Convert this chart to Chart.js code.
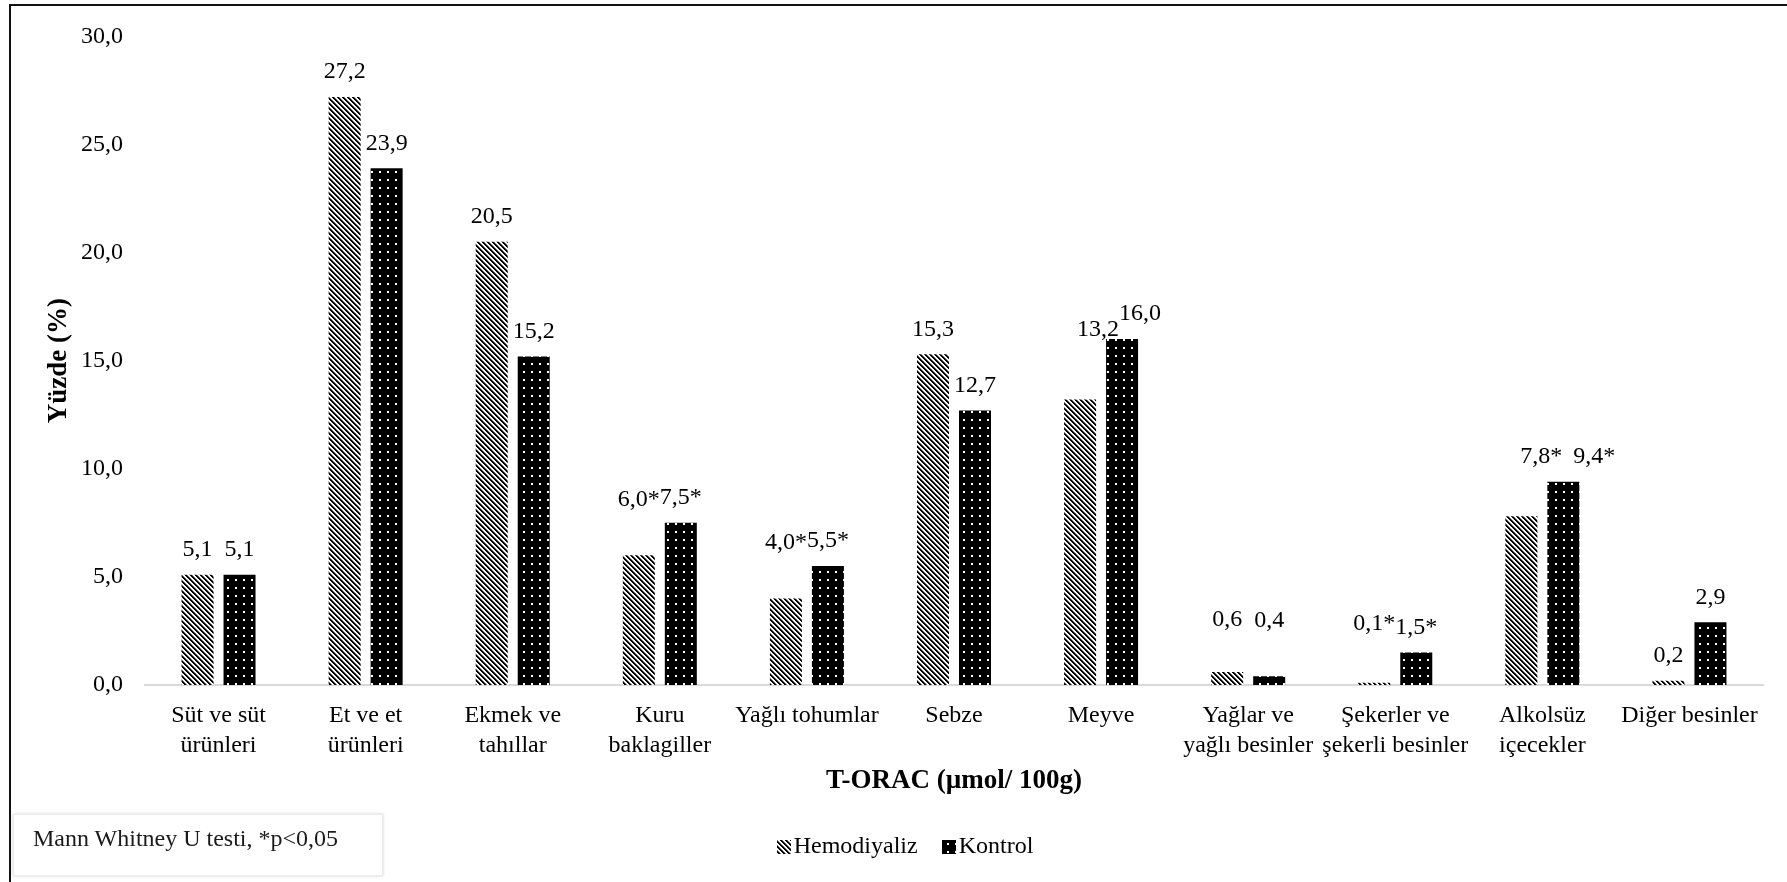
<!DOCTYPE html>
<html><head><meta charset="utf-8">
<script src="https://cdn.jsdelivr.net/npm/chart.js@4.4.0/dist/chart.umd.min.js"></script>
<style>
html,body{margin:0;padding:0;background:#fff;}
#wrap{position:relative;width:1787px;height:882px;overflow:hidden;}
canvas{position:absolute;left:0;top:0;}
#frame{position:absolute;left:9px;top:4px;width:1800px;height:900px;border-top:2px solid #111;border-left:2px solid #111;box-sizing:border-box;pointer-events:none;}
#note{position:absolute;left:13px;top:814px;width:370px;height:62px;box-sizing:border-box;border:1px solid #ececec;box-shadow:0 0 3px rgba(0,0,0,0.18);background:#fff;font-family:'Liberation Serif',serif;font-size:24px;color:#1a1a1a;padding:10px 0 0 19px;letter-spacing:0;white-space:nowrap;}
</style></head>
<body><div id="wrap"><canvas id="c" width="1787" height="882"></canvas><div id="frame"></div><div id="note">Mann Whitney U testi, *p&lt;0,05</div></div>
<script>
const categories = [["Süt ve süt","ürünleri"],["Et ve et","ürünleri"],["Ekmek ve","tahıllar"],["Kuru","baklagiller"],"Yağlı tohumlar","Sebze","Meyve",["Yağlar ve","yağlı besinler"],["Şekerler ve","şekerli besinler"],["Alkolsüz","içecekler"],"Diğer besinler"];
const hemodiyaliz = [5.1, 27.2, 20.5, 6.0, 4.0, 15.3, 13.2, 0.6, 0.1, 7.8, 0.2];
const kontrol = [5.1, 23.9, 15.2, 7.5, 5.5, 12.7, 16.0, 0.4, 1.5, 9.4, 2.9];
const hemoLabels = ["5,1","27,2","20,5","6,0*","4,0*","15,3","13,2","0,6","0,1*","7,8*","0,2"];
const kontrolLabels = ["5,1","23,9","15,2","7,5*","5,5*","12,7","16,0","0,4","1,5*","9,4*","2,9"];
const yTickLabels = ["0,0","5,0","10,0","15,0","20,0","25,0","30,0"];

function hatchPattern(){
  const n=5;const c=document.createElement('canvas');c.width=n;c.height=n;
  const x=c.getContext('2d');x.fillStyle='#fff';x.fillRect(0,0,n,n);
  for(let i=0;i<n;i++)for(let j=0;j<n;j++){
    const d=((i-j)%n+n)%n;
    if(d<2){x.fillStyle='#000';x.fillRect(i,j,1,1);}
    else if(d===2){x.fillStyle='#777';x.fillRect(i,j,1,1);}
  }
  return x.createPattern(c,'repeat');
}
function dotPattern(){
  const c=document.createElement('canvas');c.width=8;c.height=8;
  const x=c.getContext('2d');x.fillStyle='#000';x.fillRect(0,0,8,8);x.fillStyle='#fff';x.fillRect(3,3,2,2);
  return x.createPattern(c,'repeat');
}
const allLabels=[hemoLabels,kontrolLabels];
const labelStyle={
  lift:[[0,0,0,31,31,0,45,27,34,35,0],[0,0,0,0,0,0,0,31,0,0,0]],
  shift:[[0,0,0,0,0,0,18,0,0,20,0],[0,0,0,0,0,0,18,0,0,31,0]]
};
const valueLabels={id:'valueLabels',afterDatasetsDraw(chart){
  const ctx=chart.ctx;ctx.save();
  ctx.font='24px "Liberation Serif"';ctx.fillStyle='#000';ctx.textAlign='center';ctx.textBaseline='middle';
  chart.data.datasets.forEach((ds,di)=>{
    chart.getDatasetMeta(di).data.forEach((bar,i)=>{
      ctx.fillText(allLabels[di][i],bar.x+labelStyle.shift[di][i],bar.y-25-labelStyle.lift[di][i]);
    });
  });
  ctx.restore();
}};
const legendStyle={centerX:905,y:847,box:14,gap:3,itemGap:24};
const customLegend={id:'customLegend',afterDraw(chart){
  const ctx=chart.ctx;const s=legendStyle;ctx.save();
  ctx.font='24px "Liberation Serif"';ctx.textBaseline='middle';ctx.textAlign='left';
  const items=chart.data.datasets.map(ds=>({text:ds.label,fill:ds.backgroundColor,w:ctx.measureText(ds.label).width}));
  const total=items.reduce((a,it)=>a+s.box+s.gap+it.w,0)+s.itemGap*(items.length-1);
  let x=s.centerX-total/2;
  items.forEach(it=>{
    ctx.fillStyle=it.fill;ctx.fillRect(Math.round(x),Math.round(s.y-s.box/2),s.box,s.box);
    x+=s.box+s.gap;ctx.fillStyle='#000';ctx.fillText(it.text,x,s.y);x+=it.w+s.itemGap;
  });
  ctx.restore();
}};
const serif='Liberation Serif';
new Chart(document.getElementById('c'),{
  type:'bar',
  data:{labels:categories,datasets:[
    {label:'Hemodiyaliz',data:hemodiyaliz,backgroundColor:hatchPattern(),borderWidth:0,categoryPercentage:0.571,barPercentage:0.762},
    {label:'Kontrol',data:kontrol,backgroundColor:dotPattern(),borderWidth:0,categoryPercentage:0.571,barPercentage:0.762}
  ]},
  options:{
    responsive:false,animation:false,devicePixelRatio:1,
    layout:{padding:{top:34,right:24,bottom:66,left:0}},
    plugins:{legend:{display:false},tooltip:{enabled:false}},
    scales:{
      x:{
        grid:{display:false,drawTicks:false},
        border:{display:true,color:'#d9d9d9',width:2},
        ticks:{font:{family:serif,size:24,lineHeight:1.25},color:'#000',padding:16,maxRotation:0,autoSkip:false},
        title:{display:true,text:'T-ORAC (µmol/ 100g)',font:{family:serif,size:27,weight:'bold'},color:'#000',padding:{top:0,bottom:19}},
        afterFit(s){s.height=131;}
      },
      y:{
        min:0,max:30,
        grid:{display:false,drawTicks:false},
        border:{display:false},
        ticks:{stepSize:5,font:{family:serif,size:24},color:'#000',padding:22,callback:(v,i)=>yTickLabels[i]},
        title:{display:true,text:'Yüzde (%)',font:{family:serif,size:27,weight:'bold'},color:'#000',padding:{top:43,bottom:0}},
        afterFit(s){s.width=145;}
      }
    }
  },
  plugins:[valueLabels,customLegend]
});
</script>
</body></html>
